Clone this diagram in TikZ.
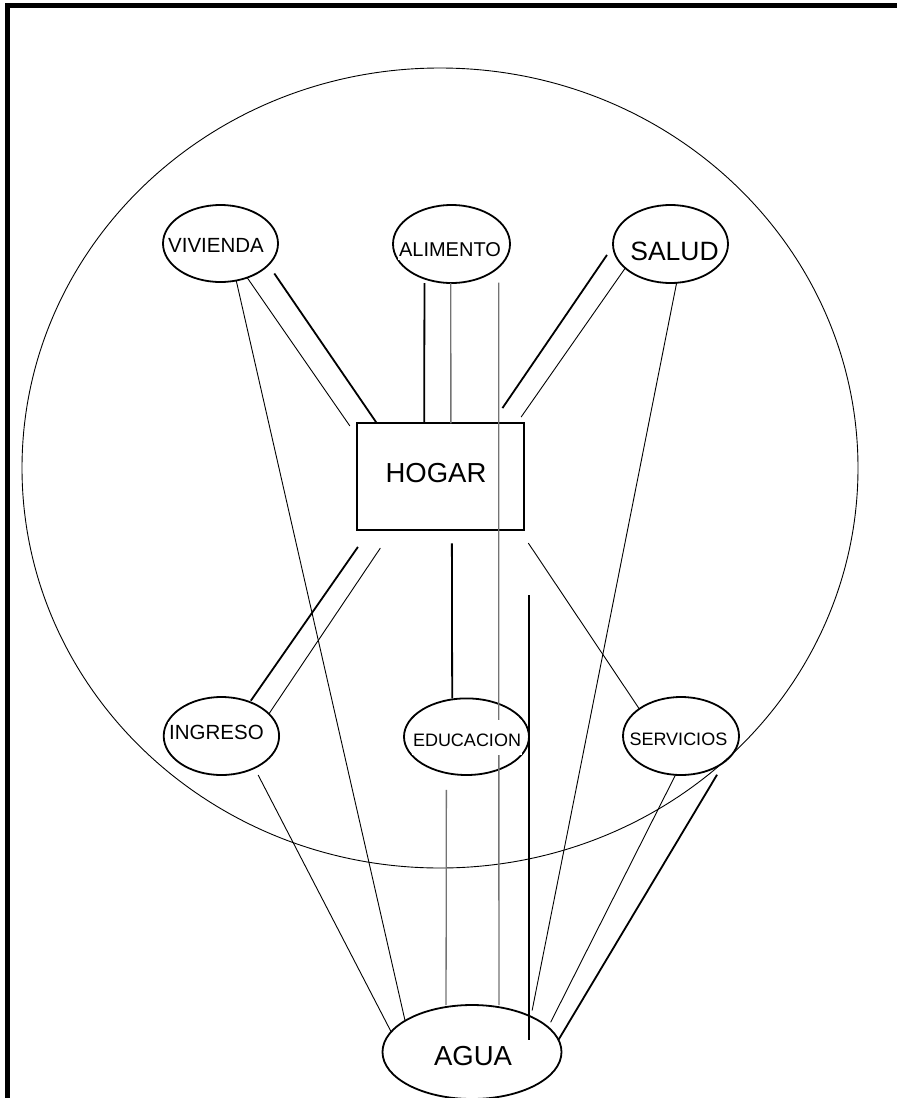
\documentclass[tikz,border=0pt]{standalone}
\usepackage{fontspec}
\setmainfont{Liberation Sans}
\usetikzlibrary{shapes.geometric}
\newcommand{\labelsize}[1]{\fontsize{#1}{#1}\selectfont}

\begin{document}
\begin{tikzpicture}[x=1pt,y=-1pt,
  oval/.style={draw,ellipse,line width=1.8pt,inner sep=0pt,outer sep=0pt},
  box/.style={draw,rectangle,line width=1.8pt,inner sep=0pt,outer sep=0pt},
  tag/.style={fill=white,inner xsep=1pt,inner ysep=3pt},
  thinline/.style={line width=0.9pt},
  thickline/.style={line width=1.8pt},
  greyline/.style={draw=black!55,line width=1.3pt}]
  \useasboundingbox (0,0) rectangle (897,1098);
  \draw[line width=4.5pt] (7.5,1110) -- (7.5,5.3) -- (910,5.3);
  \draw[line width=0.9pt] (440,468) ellipse [x radius=418, y radius=400];

  \node[oval,minimum width=115pt,minimum height=77pt] (viv) at (220.5,243.5) {};
  \node[oval,minimum width=117pt,minimum height=78pt] (ali) at (451.5,244) {};
  \node[oval,minimum width=115pt,minimum height=78pt] (sal) at (670.5,244) {};
  \node[box,minimum width=167.6pt,minimum height=106.7pt] (hog) at (440.5,476.7) {};
  \node[oval,minimum width=115.4pt,minimum height=78pt] (ing) at (221.4,736) {};
  \node[oval,minimum width=125pt,minimum height=76.6pt] (edu) at (466.5,736.7) {};
  \node[oval,minimum width=116pt,minimum height=78pt] (ser) at (681,736) {};
  \node[oval,minimum width=179pt,minimum height=94pt] (agua) at (472,1052) {};

  \draw[thinline] (viv.-67) -- (agua.155);
  \draw[thinline,shorten >=12pt] (viv.-52.7) -- (hog.154.5);
  \draw[thickline,shorten <=10.5pt] (viv.-24.6) -- (hog.140.6);
  \draw[thickline,shorten <=4.6pt] (ali.-128.6) -- (hog.107.2);
  \draw[greyline] (ali.-91) -- (hog.79.2);
  \draw[greyline,shorten <=15.6pt,shorten >=2pt] (ali.-26.6) -- (agua.59.6);
  \draw[thickline,shorten <=10.8pt,shorten >=18.5pt] (sal.182.1) -- (hog.46.3);
  \draw[thinline,shorten >=7.7pt] (sal.-152) -- (hog.35.4);
  \draw[thinline,shorten >=6.3pt] (sal.-81.9) -- (agua.31.8);
  \draw[thickline,shorten <=20.6pt,shorten >=1.7pt] (hog.-143.8) -- (ing.50.1);
  \draw[thinline,shorten <=21.7pt] (hog.-132.2) -- (ing.25.5);
  \draw[thickline,shorten <=13.3pt,shorten >=1pt] (hog.-78.1) -- (edu.111.7);
  \draw[thinline,shorten <=15.7pt] (hog.-34.8) -- (ser.147.4);
  \coordinate (riser) at (529.3,595);
  \draw[thickline,shorten >=12pt] (riser) -- (riser |- agua.center);
  \draw[thinline,shorten <=7.9pt] (ing.-44.1) -- (agua.166.4);
  \draw[greyline,shorten <=17pt,shorten >=2pt] (edu.-119.5) -- (agua.120);
  \draw[thinline,shorten >=5.6pt] (ser.-98.8) -- (agua.18.5);
  \draw[thickline,shorten <=15.5pt] (ser.-30.5) -- (agua.8.8);

  \node[tag,font=\labelsize{20.5}] (vivtxt) at (216,245.5) {VIVIENDA};
  \node[tag,font=\labelsize{20}] (alitxt) at (450,249.5) {ALIMENTO};
  \node[tag,font=\labelsize{26.5}] (saltxt) at (674.5,251) {SALUD};
  \node[font=\labelsize{27.5}] (hogtxt) at (436,473) {HOGAR};
  \node[tag,font=\labelsize{20.5}] (ingtxt) at (216.5,732.5) {INGRESO};
  \node[tag,font=\labelsize{18},anchor=base,inner ysep=2pt,text height=24.7pt,text depth=6.3pt] (edutxt) at (467,746.7) {EDUCACION};
  \node[tag,font=\labelsize{18}] (sertxt) at (678.4,739.7) {SERVICIOS};
  \node[tag,font=\labelsize{27.5}] (aguatxt) at (473,1056.3) {AGUA};
\end{tikzpicture}
\end{document}
